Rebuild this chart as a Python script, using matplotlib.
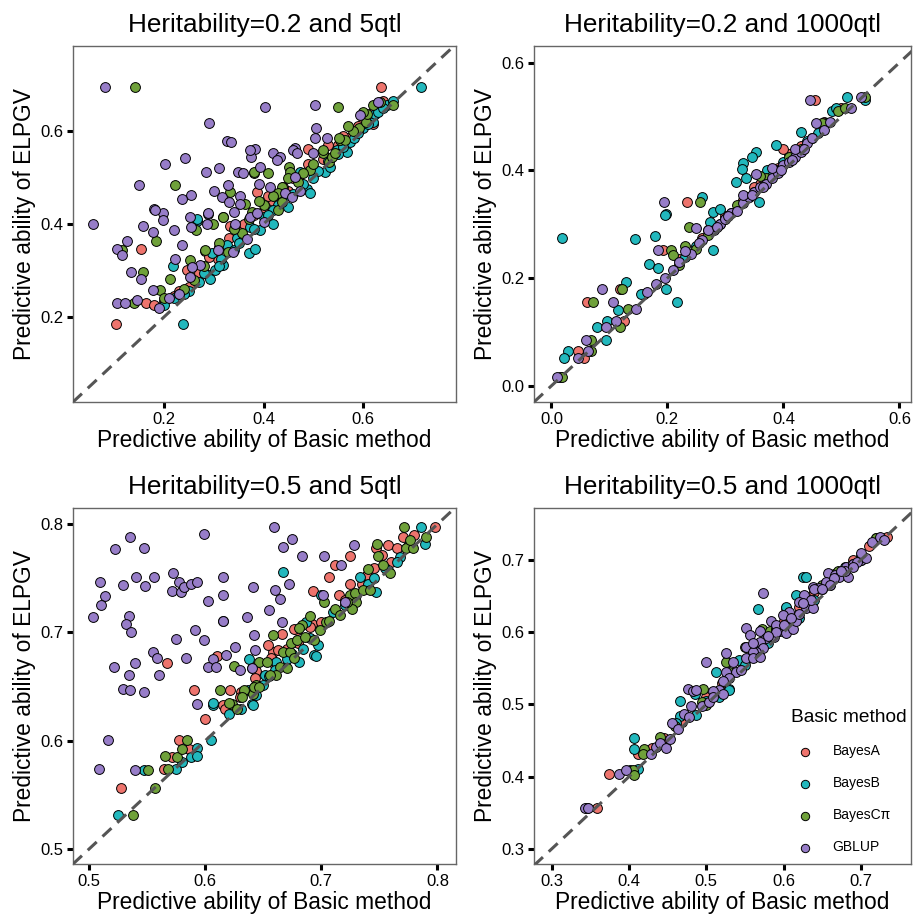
import matplotlib
matplotlib.use("Agg")
import matplotlib.pyplot as plt
import numpy as np

plt.rcParams['font.family'] = ['Liberation Sans', 'DejaVu Sans']

methods = ["BayesA", "BayesB", "BayesCπ", "GBLUP"]
colors = ["#EE746D", "#22B8BD", "#6FA13A", "#977DC8"]

titles = ["Heritability=0.2 and 5qtl", "Heritability=0.2 and 1000qtl",
          "Heritability=0.5 and 5qtl", "Heritability=0.5 and 1000qtl"]

# ---- h2=0.2, 5 qtl ----
h02_q5_bayesA = [(0.104,0.184),(0.154,0.346),(0.164,0.231),(0.246,0.301),(0.269,0.279),(0.283,0.341),
    (0.309,0.324),(0.332,0.395),(0.387,0.469),(0.490,0.562),(0.500,0.512),(0.588,0.606),(0.621,0.616),
    (0.636,0.695),(0.20,0.235),(0.22,0.245),(0.25,0.265),(0.27,0.295),(0.31,0.35),(0.35,0.385),
    (0.40,0.43),(0.42,0.45),(0.45,0.47),(0.47,0.50),(0.52,0.54),(0.55,0.57),(0.57,0.585),(0.60,0.62),
    (0.64,0.665),(0.44,0.48),(0.36,0.40),(0.23,0.255),(0.18,0.225),(0.29,0.33),(0.33,0.37),(0.38,0.42),
    (0.41,0.46),(0.46,0.50),(0.49,0.53),(0.53,0.57),(0.56,0.59),(0.59,0.61),(0.62,0.64)]
h02_q5_bayesB = [(0.239,0.184),(0.218,0.310),(0.267,0.407),(0.296,0.337),(0.326,0.355),(0.346,0.369),
    (0.289,0.290),(0.293,0.281),(0.303,0.301),(0.319,0.312),(0.370,0.337),(0.383,0.346),(0.373,0.394),
    (0.393,0.387),(0.420,0.400),(0.450,0.437),(0.266,0.410),(0.487,0.476),(0.494,0.466),(0.474,0.512),
    (0.524,0.512),(0.534,0.523),(0.547,0.559),(0.568,0.555),(0.574,0.577),(0.581,0.584),(0.601,0.606),
    (0.621,0.620),(0.625,0.636),(0.648,0.656),(0.717,0.695),(0.20,0.225),(0.22,0.24),(0.25,0.255),
    (0.27,0.275),(0.34,0.345),(0.40,0.415),(0.43,0.44),(0.46,0.465),(0.51,0.515),(0.53,0.535),
    (0.56,0.565),(0.59,0.595),(0.63,0.64),(0.66,0.665),(0.42,0.43),(0.36,0.37),(0.315,0.325),
    (0.24,0.25),(0.28,0.295),(0.31,0.31),(0.35,0.36),(0.38,0.39),(0.41,0.42),(0.44,0.455),(0.48,0.485),
    (0.50,0.50),(0.55,0.55),(0.61,0.615),(0.64,0.65)]
h02_q5_bayesC = [(0.142,0.695),(0.222,0.484),(0.381,0.510),(0.550,0.652),(0.115,0.345),(0.184,0.363),
    (0.158,0.296),(0.140,0.231),(0.192,0.258),(0.252,0.322),(0.212,0.281),(0.318,0.414),(0.264,0.387),
    (0.299,0.400),(0.283,0.344),(0.328,0.340),(0.356,0.380),(0.430,0.430),(0.333,0.469),(0.363,0.444),
    (0.319,0.416),(0.377,0.426),(0.380,0.512),(0.410,0.509),(0.452,0.523),(0.454,0.512),(0.437,0.480),
    (0.430,0.466),(0.437,0.448),(0.494,0.516),(0.520,0.552),(0.531,0.534),(0.537,0.545),(0.544,0.552),
    (0.554,0.580),(0.564,0.580),(0.591,0.606),(0.607,0.620),(0.608,0.636),(0.635,0.663),(0.660,0.656),
    (0.551,0.584),(0.20,0.24),(0.23,0.25),(0.26,0.28),(0.47,0.49),(0.50,0.53),(0.58,0.60),(0.42,0.46),
    (0.40,0.44),(0.24,0.26),(0.28,0.31),(0.31,0.36),(0.34,0.39),(0.37,0.41),(0.39,0.45),(0.45,0.50),
    (0.48,0.51),(0.52,0.56),(0.57,0.61),(0.60,0.64),(0.62,0.655)]
h02_q5_gblup = [(0.081,0.695),(0.291,0.618),(0.327,0.578),(0.335,0.576),(0.383,0.561),(0.375,0.545),
    (0.202,0.530),(0.242,0.542),(0.311,0.521),(0.285,0.511),(0.349,0.512),(0.359,0.510),(0.150,0.484),
    (0.329,0.484),(0.254,0.463),(0.236,0.453),(0.301,0.471),(0.317,0.458),(0.353,0.461),(0.180,0.432),
    (0.198,0.423),(0.058,0.401),(0.403,0.652),(0.503,0.656),(0.506,0.606),(0.504,0.584),(0.527,0.584),
    (0.594,0.634),(0.419,0.552),(0.434,0.545),(0.464,0.563),(0.105,0.346),(0.115,0.333),(0.125,0.364),
    (0.158,0.395),(0.177,0.383),(0.181,0.431),(0.198,0.408),(0.221,0.387),(0.134,0.296),(0.154,0.281),
    (0.105,0.231),(0.122,0.229),(0.145,0.236),(0.177,0.258),(0.237,0.355),(0.222,0.324),(0.252,0.414),
    (0.254,0.394),(0.289,0.421),(0.286,0.400),(0.343,0.400),(0.373,0.415),(0.386,0.424),(0.309,0.344),
    (0.339,0.340),(0.272,0.312),(0.256,0.308),(0.252,0.287),(0.366,0.367),(0.400,0.405),(0.353,0.444),
    (0.330,0.448),(0.340,0.426),(0.289,0.423),(0.373,0.559),(0.393,0.523),(0.390,0.487),(0.413,0.480),
    (0.427,0.537),(0.460,0.559),(0.467,0.552),(0.464,0.502),(0.444,0.466),(0.457,0.459),(0.474,0.470),
    (0.500,0.552),(0.631,0.663),(0.21,0.24),(0.19,0.22),(0.23,0.25)]

# ---- h2=0.2, 1000 qtl ----
h02_q1000_bayesA = [(0.454,0.530),(0.234,0.341),(0.192,0.253),(0.118,0.179),(0.062,0.156),(0.125,0.121),
    (0.046,0.064),(0.056,0.051),(0.16,0.17),(0.22,0.235),(0.26,0.275),(0.30,0.315),(0.33,0.345),
    (0.36,0.375),(0.39,0.405),(0.41,0.43),(0.43,0.445),(0.47,0.49),(0.50,0.515),(0.40,0.44),(0.27,0.29),
    (0.35,0.37)]
h02_q1000_bayesB = [(0.510,0.537),(0.540,0.530),(0.483,0.510),(0.491,0.516),(0.474,0.488),(0.430,0.471),
    (0.388,0.448),(0.353,0.434),(0.345,0.425),(0.330,0.414),(0.328,0.403),(0.318,0.378),(0.371,0.400),
    (0.336,0.385),(0.260,0.351),(0.197,0.319),(0.279,0.323),(0.290,0.329),(0.196,0.317),(0.019,0.275),
    (0.144,0.272),(0.178,0.278),(0.273,0.304),(0.358,0.341),(0.278,0.253),(0.168,0.226),(0.184,0.218),
    (0.198,0.179),(0.216,0.156),(0.154,0.170),(0.128,0.193),(0.114,0.141),(0.078,0.110),(0.096,0.121),
    (0.094,0.085),(0.028,0.064),(0.022,0.051),(0.014,0.016),(0.23,0.24),(0.25,0.26),(0.31,0.32),
    (0.34,0.35),(0.38,0.39),(0.40,0.415),(0.42,0.43),(0.44,0.455),(0.46,0.47),(0.29,0.30)]
h02_q1000_bayesC = [(0.540,0.537),(0.494,0.510),(0.506,0.516),(0.466,0.488),(0.256,0.341),(0.238,0.295),
    (0.207,0.253),(0.210,0.243),(0.122,0.179),(0.072,0.156),(0.132,0.142),(0.118,0.110),(0.069,0.085),
    (0.069,0.064),(0.019,0.016),(0.22,0.225),(0.25,0.255),(0.27,0.28),(0.30,0.31),(0.32,0.335),
    (0.35,0.36),(0.37,0.385),(0.39,0.40),(0.41,0.425),(0.43,0.44),(0.45,0.46),(0.36,0.39),(0.23,0.26)]
h02_q1000_gblup = [(0.445,0.530),(0.533,0.537),(0.517,0.516),(0.457,0.488),(0.353,0.393),(0.394,0.400),
    (0.194,0.341),(0.250,0.294),(0.184,0.253),(0.088,0.179),(0.106,0.156),(0.145,0.142),(0.094,0.110),
    (0.111,0.121),(0.060,0.085),(0.046,0.051),(0.063,0.064),(0.009,0.016),(0.165,0.175),(0.18,0.19),
    (0.195,0.20),(0.21,0.215),(0.22,0.23),(0.24,0.245),(0.26,0.27),(0.28,0.29),(0.29,0.30),(0.30,0.31),
    (0.31,0.32),(0.32,0.325),(0.33,0.34),(0.34,0.35),(0.35,0.36),(0.36,0.37),(0.37,0.375),(0.38,0.385),
    (0.39,0.395),(0.40,0.41),(0.41,0.415),(0.42,0.425),(0.43,0.435),(0.44,0.45),(0.45,0.46),(0.47,0.475),
    (0.48,0.49),(0.23,0.25),(0.27,0.29),(0.33,0.355),(0.38,0.405),(0.42,0.44),(0.255,0.265),
    (0.285,0.295),(0.305,0.315),(0.345,0.355),(0.365,0.37),(0.395,0.40),(0.415,0.42),(0.435,0.44)]

# ---- h2=0.5, 5 qtl ----
h05_q5_bayesA = [(0.527,0.556),(0.564,0.574),(0.571,0.585),(0.577,0.601),(0.586,0.592),(0.615,0.633),
    (0.617,0.629),(0.590,0.647),(0.567,0.672),(0.610,0.678),(0.621,0.647),(0.631,0.645),(0.640,0.667),
    (0.644,0.664),(0.643,0.658),(0.658,0.682),(0.663,0.684),(0.666,0.699),(0.654,0.688),(0.657,0.676),
    (0.679,0.702),(0.676,0.703),(0.692,0.708),(0.693,0.738),(0.715,0.735),(0.707,0.751),(0.712,0.762),
    (0.725,0.771),(0.739,0.753),(0.747,0.778),(0.752,0.772),(0.757,0.781),(0.765,0.778),(0.770,0.788),
    (0.798,0.797),(0.70,0.71),(0.72,0.73),(0.68,0.69),(0.735,0.745),(0.76,0.765),(0.66,0.67),
    (0.63,0.64),(0.60,0.62),(0.78,0.79),(0.745,0.76),(0.725,0.745),(0.69,0.705),(0.67,0.685)]
h05_q5_bayesB = [(0.525,0.531),(0.547,0.573),(0.575,0.574),(0.580,0.580),(0.593,0.593),(0.588,0.585),
    (0.593,0.586),(0.605,0.601),(0.607,0.633),(0.631,0.629),(0.640,0.634),(0.607,0.635),(0.641,0.633),
    (0.637,0.647),(0.638,0.675),(0.650,0.651),(0.644,0.642),(0.651,0.661),(0.661,0.673),(0.681,0.673),
    (0.694,0.679),(0.695,0.678),(0.684,0.685),(0.697,0.688),(0.687,0.710),(0.710,0.719),(0.700,0.735),
    (0.747,0.737),(0.733,0.751),(0.757,0.758),(0.768,0.770),(0.789,0.782),(0.786,0.797),(0.667,0.756),
    (0.615,0.711),(0.66,0.665),(0.675,0.68),(0.705,0.71),(0.72,0.725),(0.73,0.735),(0.74,0.745),
    (0.755,0.76),(0.775,0.78),(0.62,0.625),(0.655,0.66),(0.765,0.765),(0.745,0.75),(0.725,0.73),
    (0.69,0.695),(0.67,0.675)]
h05_q5_bayesC = [(0.551,0.573),(0.557,0.556),(0.538,0.531),(0.568,0.574),(0.565,0.586),(0.576,0.585),
    (0.584,0.601),(0.580,0.592),(0.623,0.634),(0.627,0.629),(0.641,0.643),(0.613,0.647),(0.633,0.647),
    (0.625,0.669),(0.644,0.651),(0.642,0.650),(0.646,0.650),(0.646,0.673),(0.653,0.673),(0.664,0.668),
    (0.670,0.667),(0.661,0.661),(0.656,0.661),(0.658,0.698),(0.667,0.682),(0.673,0.682),(0.676,0.676),
    (0.674,0.690),(0.679,0.693),(0.686,0.696),(0.694,0.693),(0.683,0.707),(0.681,0.704),(0.690,0.715),
    (0.699,0.702),(0.704,0.710),(0.707,0.711),(0.702,0.728),(0.712,0.722),(0.716,0.716),(0.725,0.735),
    (0.729,0.736),(0.736,0.739),(0.742,0.739),(0.730,0.728),(0.726,0.722),(0.722,0.728),(0.740,0.759),
    (0.753,0.762),(0.759,0.755),(0.749,0.771),(0.748,0.782),(0.773,0.778),(0.779,0.778),(0.776,0.785),
    (0.790,0.788),(0.771,0.797),(0.632,0.640),(0.62,0.635)]
h05_q5_gblup = [(0.535,0.788),(0.522,0.777),(0.547,0.778),(0.599,0.791),(0.509,0.747),(0.529,0.744),
    (0.540,0.751),(0.548,0.743),(0.556,0.751),(0.572,0.755),(0.577,0.747),(0.571,0.738),(0.579,0.737),
    (0.582,0.742),(0.588,0.745),(0.593,0.747),(0.615,0.751),(0.615,0.735),(0.602,0.729),(0.514,0.734),
    (0.510,0.725),(0.503,0.714),(0.534,0.715),(0.532,0.708),(0.536,0.700),(0.615,0.711),(0.636,0.714),
    (0.641,0.742),(0.591,0.702),(0.575,0.694),(0.599,0.693),(0.555,0.682),(0.558,0.676),(0.539,0.672),
    (0.521,0.668),(0.534,0.661),(0.560,0.661),(0.583,0.676),(0.529,0.648),(0.535,0.647),(0.547,0.645),
    (0.607,0.675),(0.602,0.668),(0.609,0.668),(0.618,0.679),(0.642,0.698),(0.626,0.687),(0.630,0.665),
    (0.593,0.634),(0.659,0.797),(0.667,0.779),(0.675,0.786),(0.683,0.771),(0.702,0.771),(0.728,0.781),
    (0.717,0.762),(0.660,0.739),(0.664,0.731),(0.672,0.745),(0.655,0.721),(0.701,0.735),(0.666,0.710),
    (0.643,0.684),(0.720,0.728),(0.640,0.667),(0.516,0.601),(0.508,0.574),(0.539,0.573)]

# ---- h2=0.5, 1000 qtl ----
h05_q1000_bayesA = [(0.734,0.732),(0.468,0.475),(0.412,0.431),(0.445,0.453),(0.374,0.404),(0.358,0.356),
    (0.50,0.51),(0.53,0.54),(0.56,0.575),(0.59,0.60),(0.62,0.635),(0.65,0.66),(0.67,0.68),(0.69,0.70),
    (0.71,0.72),(0.64,0.655),(0.60,0.615),(0.55,0.56),(0.52,0.53),(0.43,0.44),(0.665,0.68)]
h05_q1000_bayesB = [(0.625,0.677),(0.629,0.677),(0.567,0.632),(0.616,0.652),(0.603,0.633),(0.603,0.635),
    (0.543,0.562),(0.513,0.545),(0.530,0.522),(0.466,0.505),(0.486,0.515),(0.517,0.510),(0.530,0.520),
    (0.466,0.484),(0.487,0.485),(0.461,0.474),(0.407,0.454),(0.407,0.438),(0.401,0.409),(0.412,0.411),
    (0.345,0.356),(0.55,0.555),(0.57,0.58),(0.58,0.585),(0.60,0.605),(0.63,0.64),(0.66,0.665),
    (0.68,0.69),(0.70,0.705),(0.72,0.73),(0.64,0.645),(0.50,0.505),(0.44,0.445),(0.62,0.62)]
h05_q1000_bayesC = [(0.572,0.605),(0.582,0.601),(0.525,0.559),(0.496,0.522),(0.494,0.504),(0.500,0.499),
    (0.420,0.438),(0.418,0.431),(0.405,0.409),(0.407,0.402),(0.720,0.730),(0.70,0.70),(0.53,0.545),
    (0.56,0.57),(0.59,0.605),(0.61,0.62),(0.63,0.645),(0.65,0.665),(0.67,0.685),(0.69,0.695),
    (0.55,0.58),(0.46,0.47),(0.44,0.455)]
h05_q1000_gblup = [(0.715,0.725),(0.725,0.732),(0.730,0.728),(0.681,0.690),(0.690,0.695),(0.700,0.700),
    (0.707,0.703),(0.695,0.697),(0.657,0.682),(0.666,0.679),(0.672,0.677),(0.683,0.677),(0.573,0.654),
    (0.627,0.652),(0.638,0.663),(0.646,0.661),(0.620,0.642),(0.629,0.633),(0.638,0.633),(0.607,0.628),
    (0.599,0.624),(0.551,0.606),(0.556,0.596),(0.569,0.601),(0.577,0.592),(0.588,0.594),(0.595,0.601),
    (0.603,0.599),(0.612,0.605),(0.616,0.615),(0.569,0.587),(0.573,0.578),(0.565,0.573),(0.552,0.580),
    (0.560,0.573),(0.552,0.564),(0.560,0.564),(0.569,0.566),(0.534,0.559),(0.526,0.571),(0.500,0.559),
    (0.526,0.545),(0.539,0.545),(0.545,0.548),(0.530,0.536),(0.521,0.532),(0.517,0.520),(0.509,0.518),
    (0.476,0.522),(0.483,0.518),(0.487,0.520),(0.494,0.498),(0.504,0.504),(0.509,0.510),(0.521,0.515),
    (0.480,0.498),(0.471,0.487),(0.478,0.482),(0.455,0.474),(0.463,0.466),(0.429,0.431),(0.435,0.441),
    (0.440,0.446),(0.448,0.439),(0.453,0.452),(0.387,0.404),(0.396,0.409),(0.343,0.356),(0.347,0.356),
    (0.584,0.615),(0.590,0.610),(0.64,0.66),(0.655,0.67),(0.665,0.675),(0.68,0.685),(0.60,0.61),
    (0.62,0.625),(0.66,0.665),(0.70,0.71),(0.69,0.69),(0.675,0.685),(0.65,0.66),(0.635,0.645),
    (0.625,0.64),(0.61,0.62),(0.59,0.60),(0.58,0.595),(0.56,0.585)]

panels = [
    [h02_q5_bayesA, h02_q5_bayesB, h02_q5_bayesC, h02_q5_gblup],
    [h02_q1000_bayesA, h02_q1000_bayesB, h02_q1000_bayesC, h02_q1000_gblup],
    [h05_q5_bayesA, h05_q5_bayesB, h05_q5_bayesC, h05_q5_gblup],
    [h05_q1000_bayesA, h05_q1000_bayesB, h05_q1000_bayesC, h05_q1000_gblup],
]

xlims = [(0.017, 0.787), (-0.030, 0.620), (0.486, 0.816), (0.277, 0.765)]
ylims = [(0.017, 0.783), (-0.030, 0.631), (0.486, 0.815), (0.279, 0.772)]
xticks = [[0.2, 0.4, 0.6], [0.0, 0.2, 0.4, 0.6], [0.5, 0.6, 0.7, 0.8], [0.3, 0.4, 0.5, 0.6, 0.7]]
yticks = [[0.2, 0.4, 0.6], [0.0, 0.2, 0.4, 0.6], [0.5, 0.6, 0.7, 0.8], [0.3, 0.4, 0.5, 0.6, 0.7]]

W, H = 914, 919
fig = plt.figure(figsize=(W / 100, H / 100), dpi=100)
boxes = [(73, 46, 456, 402), (534, 46, 911, 402), (73, 508, 456, 864), (534, 508, 911, 864)]

for i, (l, t, r, b) in enumerate(boxes):
    ax = fig.add_axes([l / W, (H - b) / H, (r - l) / W, (b - t) / H])
    for pts, m, c in zip(panels[i], methods, colors):
        arr = np.array(pts)
        ax.scatter(arr[:, 0], arr[:, 1], s=50, c=c, edgecolors="black", linewidths=0.7,
                   label=m, zorder=2)
    lo = min(xlims[i][0], ylims[i][0])
    hi = max(xlims[i][1], ylims[i][1])
    ax.plot([lo, hi], [lo, hi], color="#555555", lw=2.2, dashes=(4, 2.6), zorder=3)
    ax.set_xlim(xlims[i])
    ax.set_ylim(ylims[i])
    ax.set_xticks(xticks[i])
    ax.set_yticks(yticks[i])
    ax.set_xticklabels([f"{v:.1f}" for v in xticks[i]])
    ax.set_yticklabels([f"{v:.1f}" for v in yticks[i]])
    ax.tick_params(direction="out", length=4, width=2.2, labelsize=12, colors="black", pad=3)
    for sp in ax.spines.values():
        sp.set_color("#666666")
        sp.set_linewidth(1.0)
    ax.set_title(titles[i], fontsize=18.8, pad=10)
    ax.set_xlabel("Predictive ability of Basic method", fontsize=16.4, labelpad=2)
    ax.set_ylabel("Predictive ability of ELPGV", fontsize=16.4, labelpad=3)
    if i == 3:
        leg = ax.legend(title="Basic method", loc="upper left", bbox_to_anchor=(0.648, 0.47),
                        frameon=False, fontsize=10, title_fontsize=13.8, markerscale=0.85,
                        labelspacing=1.3, handletextpad=1.0, alignment="left")

fig.savefig("out.png", dpi=100)
